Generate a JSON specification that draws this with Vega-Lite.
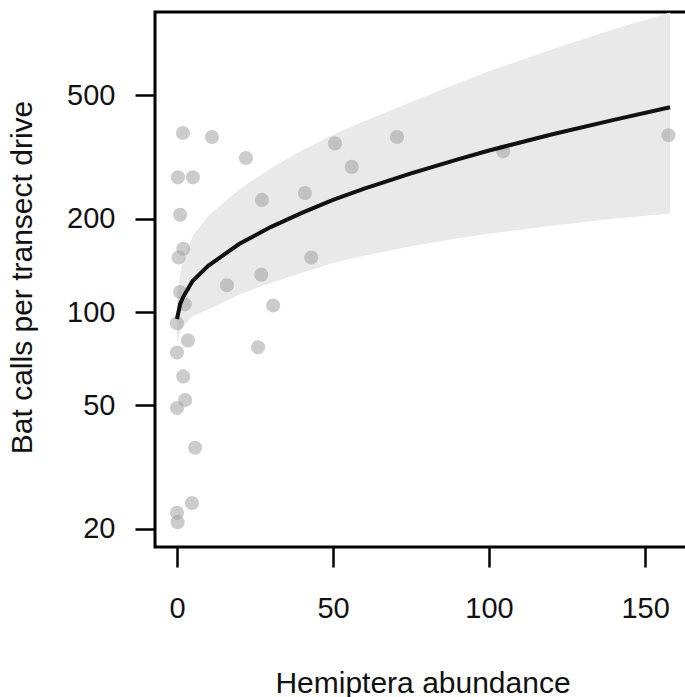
{
  "$schema": "https://vega.github.io/schema/vega-lite/v6.json",
  "autosize": {"type": "none"},
  "padding": {"left": 155, "top": 12, "right": 0, "bottom": 150},
  "width": 535,
  "height": 535,
  "config": {
    "font": "Liberation Sans",
    "view": {"stroke": "#000000", "strokeWidth": 3},
    "axis": {
      "grid": false,
      "domain": false,
      "ticks": true,
      "tickSize": 20,
      "tickWidth": 2.5,
      "tickColor": "#000000",
      "labelFont": "Liberation Sans",
      "labelFontSize": 29,
      "labelColor": "#111111",
      "titleFont": "Liberation Sans",
      "titleFontSize": 30,
      "titleFontWeight": "normal",
      "titleColor": "#111111"
    }
  },
  "datasets": {
    "points": [
      {"hemiptera": 1.9, "calls": 378},
      {"hemiptera": 11.2, "calls": 367},
      {"hemiptera": 22.1, "calls": 314},
      {"hemiptera": 0.3, "calls": 272},
      {"hemiptera": 5.1, "calls": 272},
      {"hemiptera": 50.6, "calls": 350},
      {"hemiptera": 70.5, "calls": 367},
      {"hemiptera": 157.5, "calls": 372},
      {"hemiptera": 104.5, "calls": 330},
      {"hemiptera": 1.0, "calls": 206},
      {"hemiptera": 27.2, "calls": 230},
      {"hemiptera": 41, "calls": 242},
      {"hemiptera": 56, "calls": 294},
      {"hemiptera": 2, "calls": 160},
      {"hemiptera": 0.5, "calls": 150},
      {"hemiptera": 43, "calls": 150},
      {"hemiptera": 27, "calls": 132},
      {"hemiptera": 16, "calls": 122},
      {"hemiptera": 30.8, "calls": 105},
      {"hemiptera": 1, "calls": 116},
      {"hemiptera": 2.5, "calls": 106},
      {"hemiptera": 0, "calls": 92},
      {"hemiptera": 3.5, "calls": 81},
      {"hemiptera": 0, "calls": 74},
      {"hemiptera": 26, "calls": 77},
      {"hemiptera": 2, "calls": 62},
      {"hemiptera": 2.6, "calls": 52},
      {"hemiptera": 0, "calls": 49},
      {"hemiptera": 5.8, "calls": 36.5},
      {"hemiptera": 4.8, "calls": 24.2},
      {"hemiptera": 0, "calls": 22.5},
      {"hemiptera": 0.2, "calls": 21}
    ],
    "fit": [
      {"hemiptera": 0, "fit": 95, "lower": 79, "upper": 114},
      {"hemiptera": 1, "fit": 106, "lower": 86, "upper": 132},
      {"hemiptera": 2, "fit": 112, "lower": 90, "upper": 147},
      {"hemiptera": 5, "fit": 126, "lower": 97, "upper": 176},
      {"hemiptera": 10, "fit": 141, "lower": 102, "upper": 204},
      {"hemiptera": 20, "fit": 166, "lower": 114, "upper": 249},
      {"hemiptera": 30, "fit": 188, "lower": 124, "upper": 291},
      {"hemiptera": 40, "fit": 209, "lower": 134, "upper": 332},
      {"hemiptera": 50, "fit": 230, "lower": 144, "upper": 373},
      {"hemiptera": 60, "fit": 250, "lower": 152, "upper": 413},
      {"hemiptera": 75, "fit": 280, "lower": 163, "upper": 476},
      {"hemiptera": 90, "fit": 311, "lower": 173, "upper": 547},
      {"hemiptera": 100, "fit": 332, "lower": 179, "upper": 598},
      {"hemiptera": 120, "fit": 374, "lower": 190, "upper": 703},
      {"hemiptera": 140, "fit": 417, "lower": 200, "upper": 817},
      {"hemiptera": 158, "fit": 458, "lower": 208, "upper": 926}
    ]
  },
  "layer": [
    {
      "data": {"name": "fit"},
      "mark": {"type": "area", "color": "#e9e9e9", "clip": true},
      "encoding": {
        "x": {"field": "hemiptera", "type": "quantitative"},
        "y": {"field": "lower", "type": "quantitative"},
        "y2": {"field": "upper"}
      }
    },
    {
      "data": {"name": "points"},
      "mark": {"type": "circle", "size": 200, "color": "#999999", "opacity": 0.5},
      "encoding": {
        "x": {
          "field": "hemiptera",
          "type": "quantitative",
          "scale": {"domain": [-7.05, 164.4], "nice": false, "zero": false},
          "axis": {
            "values": [0, 50, 100, 150],
            "title": "Hemiptera abundance",
            "labelBaseline": "alphabetic",
            "labelPadding": 50,
            "titleBaseline": "alphabetic",
            "titleX": 267.5,
            "titleY": 145,
            "titleAnchor": null
          }
        },
        "y": {
          "field": "calls",
          "type": "quantitative",
          "scale": {"type": "log", "domain": [17.46, 929], "nice": false},
          "axis": {
            "values": [20, 50, 100, 200, 500],
            "title": "Bat calls per transect drive",
            "labelPadding": 20,
            "labelBaseline": "middle",
            "titleBaseline": "alphabetic",
            "titleAngle": 270,
            "titleX": -124,
            "titleY": 265,
            "titleAlign": "center"
          }
        }
      }
    },
    {
      "data": {"name": "fit"},
      "mark": {"type": "line", "color": "#111111", "strokeWidth": 4},
      "encoding": {
        "x": {"field": "hemiptera", "type": "quantitative"},
        "y": {"field": "fit", "type": "quantitative"}
      }
    }
  ]
}
